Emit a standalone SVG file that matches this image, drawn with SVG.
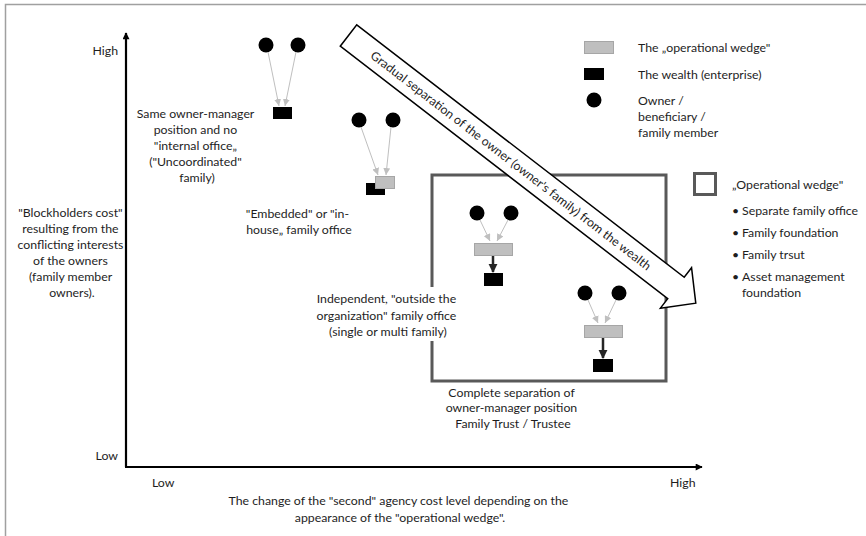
<svg xmlns="http://www.w3.org/2000/svg" width="866" height="536" viewBox="0 0 866 536">
  <defs>
    <style>
      .t { font-family: Lato, "Liberation Sans", sans-serif; font-size: 12.3px; fill: #1e1e1e; }
      .c { text-anchor: middle; }
      .e { text-anchor: end; }
      .owner { fill: #000; }
      .wealth { fill: #000; }
      .wedge { fill: #bfbfbf; stroke: #a6a6a6; stroke-width: 1; }
      .link { stroke: #bfbfbf; stroke-width: 1; fill: none; marker-end: url(#ah-grey); }
      .flow { stroke: #262626; stroke-width: 2.5; fill: none; marker-end: url(#ah-dark); }
      .axis { stroke: #000; stroke-width: 2.2; fill: none; marker-end: url(#ah-axis); }
    </style>
    <marker id="ah-grey" viewBox="0 0 10 10" refX="10" refY="5" markerWidth="7" markerHeight="7" markerUnits="userSpaceOnUse" orient="auto">
      <path d="M0,0 L10,5 L0,10 z" fill="#bfbfbf"/>
    </marker>
    <marker id="ah-dark" viewBox="0 0 10 10" refX="9" refY="5" markerWidth="9" markerHeight="10" markerUnits="userSpaceOnUse" orient="auto">
      <path d="M0,0 L10,5 L0,10 z" fill="#262626"/>
    </marker>
    <marker id="ah-axis" viewBox="0 0 10 10" refX="9" refY="5" markerWidth="8" markerHeight="7" markerUnits="userSpaceOnUse" orient="auto">
      <path d="M0,0 L10,5 L0,10 z" fill="#000"/>
    </marker>
  </defs>

  <!-- outer frame -->
  <rect x="5.5" y="4.5" width="870" height="545" fill="#fff" stroke="#a0a0a0" stroke-width="1.5"/>

  <!-- axes -->
  <g id="axes">
    <line class="axis" x1="126" y1="467" x2="126" y2="33"/>
    <line class="axis" x1="125" y1="467" x2="702" y2="467"/>
    <text class="t e" x="118" y="55">High</text>
    <text class="t e" x="118" y="460">Low</text>
    <text class="t" x="152" y="487">Low</text>
    <text class="t" x="670" y="487">High</text>
    <text class="t c" x="72">
      <tspan x="72" y="217">"Blockholders cost"</tspan>
      <tspan x="72" y="233">resulting from the</tspan>
      <tspan x="72" y="249">conflicting interests</tspan>
      <tspan x="72" y="265">of the owners</tspan>
      <tspan x="72" y="281">(family member</tspan>
      <tspan x="72" y="297">owners).</tspan>
    </text>
    <text class="t c">
      <tspan x="400" y="505">The change of the "second" agency cost level depending on the</tspan>
      <tspan x="400" y="522">appearance of the "operational wedge".</tspan>
    </text>
  </g>

  <!-- operational wedge frame -->
  <g id="wedge-frame">
    <rect x="432" y="175" width="234" height="206" fill="none" stroke="#595959" stroke-width="3"/>
  </g>

  <!-- stage 1: uncoordinated family -->
  <g id="stage-uncoordinated">
    <circle class="owner" cx="266" cy="45" r="7.5"/>
    <circle class="owner" cx="298" cy="45" r="7.5"/>
    <rect class="wealth" x="273" y="107" width="19" height="12"/>
    <text class="t c">
      <tspan x="197" y="118">Same owner-manager</tspan>
      <tspan x="197" y="134">position and no</tspan>
      <tspan x="197" y="150">"internal office„</tspan>
      <tspan x="197" y="166">("Uncoordinated"</tspan>
      <tspan x="197" y="182">family)</tspan>
    </text>
  </g>

  <!-- stage 2: embedded family office -->
  <g id="stage-embedded">
    <circle class="owner" cx="359" cy="120" r="7.5"/>
    <circle class="owner" cx="393" cy="120" r="7.5"/>
    <rect class="wealth" x="366" y="183" width="19" height="12"/>
    <rect class="wedge" x="375.5" y="176.5" width="19" height="12"/>
    <text class="t c">
      <tspan x="299" y="218">"Embedded" or "in-</tspan>
      <tspan x="299" y="234">house„ family office</tspan>
    </text>
  </g>

  <!-- stage 3: independent family office -->
  <g id="stage-independent">
    <circle class="owner" cx="477" cy="213" r="7.5"/>
    <circle class="owner" cx="511" cy="213" r="7.5"/>
    <rect class="wedge" x="474.5" y="243.5" width="38" height="12"/>
    <rect class="wealth" x="484" y="273" width="19" height="13"/>
    <rect x="428" y="287" width="9" height="54" fill="#fff"/>
    <text class="t c">
      <tspan x="388" y="303">Independent, "outside the</tspan>
      <tspan x="388" y="320">organization" family office</tspan>
      <tspan x="388" y="336">(single or multi family)</tspan>
    </text>
  </g>

  <!-- stage 4: complete separation -->
  <g id="stage-trust">
    <circle class="owner" cx="585" cy="293" r="7.5"/>
    <circle class="owner" cx="619" cy="293" r="7.5"/>
    <rect class="wedge" x="584.5" y="325.5" width="38" height="12"/>
    <rect class="wealth" x="593" y="359" width="20" height="13"/>
    <text class="t c">
      <tspan x="513" y="397">Complete separation of</tspan>
      <tspan x="513" y="412">owner-manager position</tspan>
      <tspan x="513" y="428">Family Trust / Trustee</tspan>
    </text>
  </g>

  <!-- connectors -->
  <g id="connectors">
    <line class="link" x1="268" y1="52" x2="279" y2="106"/>
    <line class="link" x1="296" y1="52" x2="285" y2="106"/>
    <line class="link" x1="361" y1="127" x2="378" y2="175"/>
    <line class="link" x1="391" y1="127" x2="386" y2="175"/>
    <line class="link" x1="480" y1="220" x2="490" y2="241"/>
    <line class="link" x1="508" y1="220" x2="497" y2="241"/>
    <line class="link" x1="588" y1="300" x2="598" y2="323"/>
    <line class="link" x1="616" y1="300" x2="605" y2="323"/>
    <line class="flow" x1="493" y1="256" x2="493" y2="272"/>
    <line class="flow" x1="603" y1="338" x2="603" y2="358"/>
  </g>

  <!-- gradual separation arrow -->
  <g id="separation-arrow" transform="translate(348.5,35.5) rotate(37.63)">
    <path d="M0,-13.5 L413.5,-13.5 L413.5,-25.5 L438.5,0 L413.5,25.5 L413.5,13.5 L0,13.5 Z" fill="#fff" stroke="#000" stroke-width="1.5" stroke-linejoin="miter"/>
    <text class="t c" x="205" y="4.3">Gradual separation of the owner (owner's family) from the wealth</text>
  </g>

  <!-- legend -->
  <g id="legend">
    <rect class="wedge" x="584.5" y="41.5" width="29" height="12"/>
    <text class="t" x="638" y="52">The „operational wedge"</text>
    <rect class="wealth" x="584" y="68" width="20" height="12"/>
    <text class="t" x="638" y="79">The wealth (enterprise)</text>
    <circle class="owner" cx="594" cy="100" r="7.5"/>
    <text class="t">
      <tspan x="638" y="105">Owner /</tspan>
      <tspan x="638" y="121">beneficiary /</tspan>
      <tspan x="638" y="137">family member</tspan>
    </text>
  </g>

  <g id="legend-wedge">
    <rect x="694.5" y="173.5" width="21" height="21" fill="none" stroke="#595959" stroke-width="3"/>
    <text class="t" x="732" y="189">„Operational wedge"</text>
    <text class="t">
      <tspan x="732" y="215">•</tspan><tspan x="742" y="215">Separate family office</tspan>
      <tspan x="732" y="237">•</tspan><tspan x="742" y="237">Family foundation</tspan>
      <tspan x="732" y="259">•</tspan><tspan x="742" y="259">Family trsut</tspan>
      <tspan x="732" y="281">•</tspan><tspan x="742" y="281">Asset management</tspan>
      <tspan x="742" y="297">foundation</tspan>
    </text>
  </g>
</svg>
